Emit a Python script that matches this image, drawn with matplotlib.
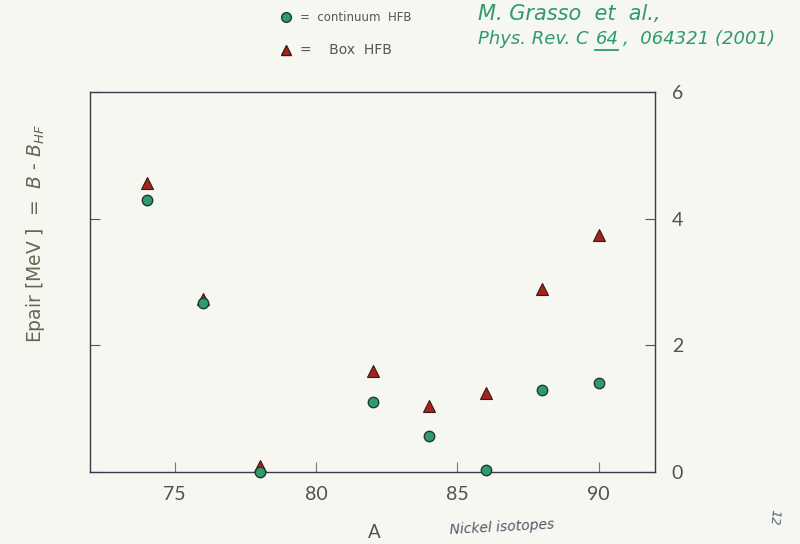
import matplotlib
matplotlib.use("Agg")
import matplotlib.pyplot as plt
from matplotlib.lines import Line2D

# Data
mass_number = [74, 76, 78, 82, 84, 86, 88, 90]
continuum_hfb = [4.30, 2.67, 0.00, 1.11, 0.57, 0.03, 1.30, 1.41]
box_hfb = [4.57, 2.73, 0.09, 1.60, 1.04, 1.25, 2.89, 3.74]
x_ticks = [75, 80, 85, 90]
y_ticks = [0, 2, 4, 6]

bg = "#f6f7f1"
green = "#2e9a6e"
red = "#a3241e"
ink = "#505050"

fig = plt.figure(figsize=(8, 5.44), dpi=100, facecolor=bg)
ax = fig.add_axes([0.1125, 0.132, 0.7065, 0.699])
ax.set_facecolor(bg)

ax.plot(mass_number, box_hfb, linestyle="none", marker="^", markersize=8,
        markerfacecolor=red, markeredgecolor="#3a1a10", markeredgewidth=0.8,
        clip_on=False, zorder=3)
ax.plot(mass_number, continuum_hfb, linestyle="none", marker="o", markersize=7.5,
        markerfacecolor=green, markeredgecolor="#1d3b2e", markeredgewidth=1.0,
        clip_on=False, zorder=4)

ax.set_xlim(72, 92)
ax.set_ylim(0, 6)
ax.set_xticks(x_ticks)
ax.set_xticklabels([str(t) for t in x_ticks], fontfamily="Lato")
ax.set_yticks(y_ticks)
ax.set_yticklabels([str(t) for t in y_ticks], fontfamily="Lato")
ax.tick_params(axis="x", direction="in", length=7, width=0.8, color="#777777",
               labelsize=14, labelcolor=ink, pad=10)
ax.tick_params(axis="y", which="both", direction="in", length=7, width=0.8,
               color="#555555", labelsize=14, labelcolor=ink, pad=12,
               left=True, right=True, labelleft=False, labelright=True)
for s in ax.spines.values():
    s.set_color("#3a3a4a")
    s.set_linewidth(1.0)

# Axis labels
fig.text(0.045, 0.57, r"Epair [MeV ]  =  $\mathit{B}$ - $\mathit{B}_{HF}$",
         rotation=90, ha="center", va="center", fontsize=13.5, color="#666655")
fig.text(0.468, 0.022, "A", ha="center", va="center", fontsize=13.5, color=ink,
         fontfamily="Lato")
fig.text(0.627, 0.030, "Nickel isotopes", ha="center", va="center", fontsize=10,
         color="#555566", style="italic", rotation=3)

# Legend at the top
fig.add_artist(Line2D([0.357], [0.968], marker="o", markersize=7,
                      markerfacecolor=green, markeredgecolor="#1d3b2e",
                      transform=fig.transFigure, linestyle="none"))
fig.text(0.375, 0.968, "=  continuum  HFB", ha="left", va="center",
         fontsize=8.5, color="#555555")
fig.add_artist(Line2D([0.357], [0.908], marker="^", markersize=7,
                      markerfacecolor=red, markeredgecolor="#3a1a10",
                      transform=fig.transFigure, linestyle="none"))
fig.text(0.375, 0.908, "=    Box  HFB", ha="left", va="center",
         fontsize=10, color="#555555")

# Citation
fig.text(0.598, 0.975, "M. Grasso  et  al.,", ha="left", va="center",
         fontsize=15, color=green, style="italic")
renderer = fig.canvas.get_renderer()
W, H = fig.bbox.width, fig.bbox.height
cy = 0.928
t1 = fig.text(0.598, cy, "Phys. Rev. C", ha="left", va="center",
              fontsize=13, color=green, style="italic")
x1 = t1.get_window_extent(renderer).x1 / W + 0.008
t2 = fig.text(x1, cy, "64", ha="left", va="center",
              fontsize=13, color=green, style="italic")
bb2 = t2.get_window_extent(renderer)
fig.add_artist(Line2D([bb2.x0 / W, bb2.x1 / W], [0.909, 0.909], color=green,
                      lw=1.3, transform=fig.transFigure))
fig.text(bb2.x1 / W + 0.006, cy, ",  064321 (2001)", ha="left", va="center",
         fontsize=13, color=green, style="italic")

fig.text(0.968, 0.05, "12", ha="center", va="center", fontsize=9,
         color="#556677", rotation=-95, style="italic")

fig.savefig("out.png", dpi=100, facecolor=bg)
